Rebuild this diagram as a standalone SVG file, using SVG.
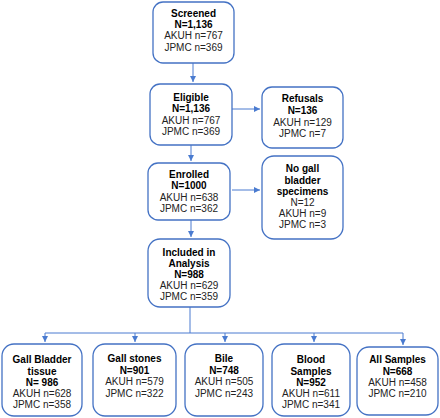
<svg xmlns="http://www.w3.org/2000/svg" width="440" height="418" viewBox="0 0 440 418">
<style>
.box{fill:#fff;stroke:#4472C4;stroke-width:1.3}
text{font-family:"Liberation Sans",Arial,sans-serif;font-size:10px;fill:#222;text-anchor:middle}
.b{font-weight:bold;fill:#000}
.c{stroke:#4a7bd0;stroke-width:1;fill:none}
</style>
<defs>
<marker id="ah" markerWidth="8" markerHeight="8" refX="6" refY="3" orient="auto" markerUnits="userSpaceOnUse">
<path d="M0,0 L6,3 L0,6 Z" fill="#4a7bd0"/>
</marker>
</defs>
<rect width="440" height="418" fill="#fff"/>
<g id="connectors">
<path class="c" d="M193,63 V82" marker-end="url(#ah)"/>
<path class="c" d="M191,145 V161" marker-end="url(#ah)"/>
<path class="c" d="M232,109 H260" marker-end="url(#ah)"/>
<path class="c" d="M232,190 H260" marker-end="url(#ah)"/>
<path class="c" d="M191,220 V237" marker-end="url(#ah)"/>
<path class="c" d="M190,307 V333 M45,333 H403"/>
<path class="c" d="M45,333 V342" marker-end="url(#ah)"/>
<path class="c" d="M135,333 V342" marker-end="url(#ah)"/>
<path class="c" d="M225,333 V342" marker-end="url(#ah)"/>
<path class="c" d="M314,333 V342" marker-end="url(#ah)"/>
<path class="c" d="M403,333 V345" marker-end="url(#ah)"/>
</g>
<g id="screened">
<rect class="box" x="153" y="2" width="81" height="61" rx="10"/>
<text class="b" x="193.5" y="17">Screened</text>
<text class="b" x="193.5" y="28">N=1,136</text>
<text x="193.5" y="39">AKUH n=767</text>
<text x="193.5" y="51">JPMC n=369</text>
</g>
<g id="eligible">
<rect class="box" x="150" y="84" width="82" height="61" rx="10"/>
<text class="b" x="191" y="101">Eligible</text>
<text class="b" x="191" y="112">N=1,136</text>
<text x="191" y="124">AKUH n=767</text>
<text x="191" y="135">JPMC n=369</text>
</g>
<g id="refusals">
<rect class="box" x="262" y="87" width="81" height="61" rx="10"/>
<text class="b" x="302.5" y="102">Refusals</text>
<text class="b" x="302.5" y="114">N=136</text>
<text x="302.5" y="126">AKUH n=129</text>
<text x="302.5" y="137">JPMC n=7</text>
</g>
<g id="enrolled">
<rect class="box" x="148" y="163" width="82" height="57" rx="10"/>
<text class="b" x="189" y="178">Enrolled</text>
<text class="b" x="189" y="189">N=1000</text>
<text x="189" y="201">AKUH n=638</text>
<text x="189" y="212">JPMC n=362</text>
</g>
<g id="nogall">
<rect class="box" x="262" y="156" width="81" height="83" rx="12"/>
<text class="b" x="302.5" y="172">No gall</text>
<text class="b" x="302.5" y="184">bladder</text>
<text class="b" x="302.5" y="195">specimens</text>
<text x="302.5" y="206">N=12</text>
<text x="302.5" y="217">AKUH n=9</text>
<text x="302.5" y="228">JPMC n=3</text>
</g>
<g id="included">
<rect class="box" x="148" y="239" width="82" height="68" rx="12"/>
<text class="b" x="189" y="256">Included in</text>
<text class="b" x="189" y="267">Analysis</text>
<text class="b" x="189" y="278">N=988</text>
<text x="189" y="289">AKUH n=629</text>
<text x="189" y="300">JPMC n=359</text>
</g>
<g id="gallbladder">
<rect class="box" x="2" y="344" width="80" height="72" rx="12"/>
<text class="b" x="42" y="363">Gall Bladder</text>
<text class="b" x="42" y="375">tissue</text>
<text class="b" x="42" y="386">N= 986</text>
<text x="42" y="397">AKUH n=628</text>
<text x="42" y="408">JPMC n=358</text>
</g>
<g id="gallstones">
<rect class="box" x="93" y="344" width="83" height="72" rx="12"/>
<text class="b" x="134.5" y="362">Gall stones</text>
<text class="b" x="134.5" y="374">N=901</text>
<text x="134.5" y="385">AKUH n=579</text>
<text x="134.5" y="397">JPMC n=322</text>
</g>
<g id="bile">
<rect class="box" x="185" y="344" width="78" height="72" rx="12"/>
<text class="b" x="224" y="362">Bile</text>
<text class="b" x="224" y="374">N=748</text>
<text x="224" y="385">AKUH n=505</text>
<text x="224" y="397">JPMC n=243</text>
</g>
<g id="blood">
<rect class="box" x="272" y="344" width="78" height="72" rx="12"/>
<text class="b" x="311" y="363">Blood</text>
<text class="b" x="311" y="375">Samples</text>
<text class="b" x="311" y="386">N=952</text>
<text x="311" y="397">AKUH n=611</text>
<text x="311" y="408">JPMC n=341</text>
</g>
<g id="allsamples">
<rect class="box" x="357" y="347" width="81" height="68" rx="12"/>
<text class="b" x="397.5" y="363">All Samples</text>
<text class="b" x="397.5" y="375">N=668</text>
<text x="397.5" y="386">AKUH n=458</text>
<text x="397.5" y="397">JPMC n=210</text>
</g>
</svg>
